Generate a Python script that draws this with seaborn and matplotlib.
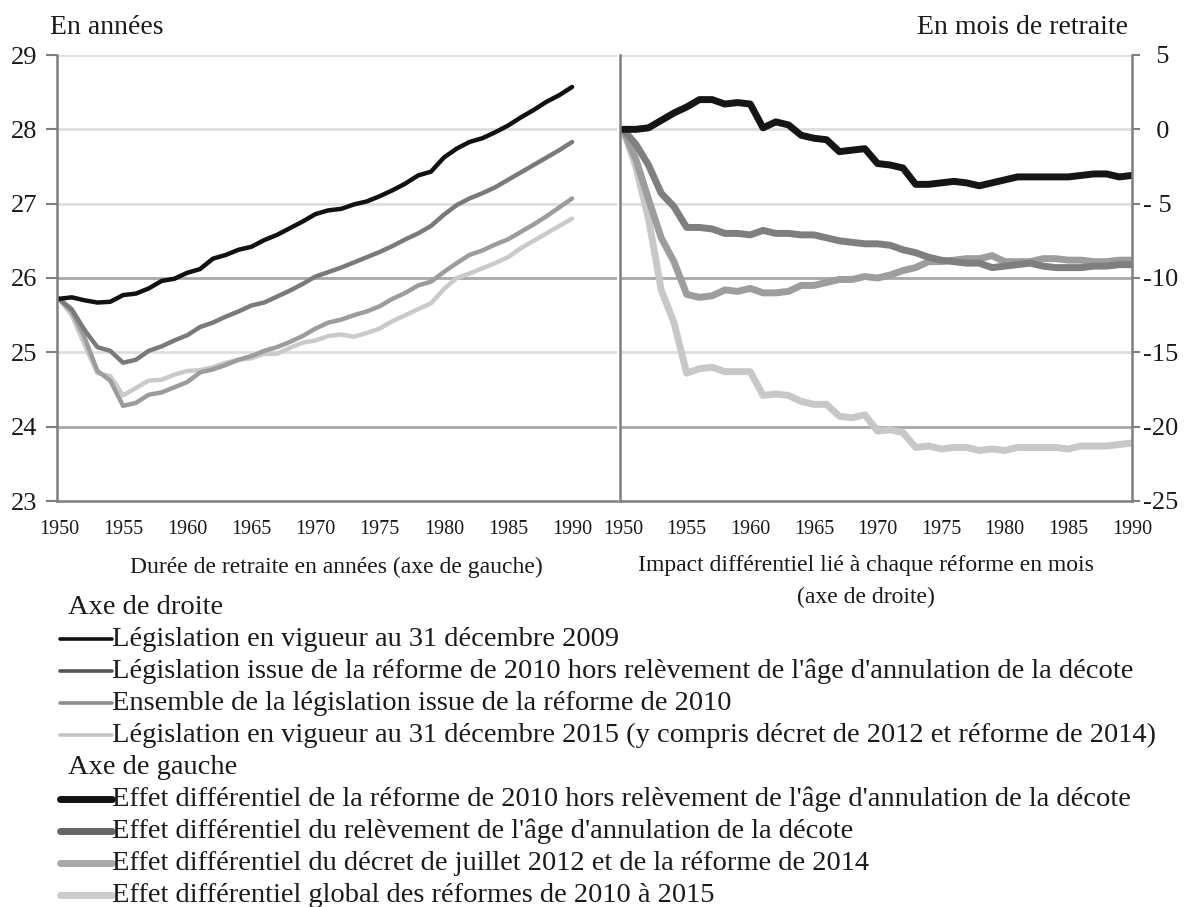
import matplotlib
matplotlib.use("Agg")
import matplotlib.pyplot as plt
from matplotlib.lines import Line2D
import numpy as np
import pandas as pd
import seaborn as sns

#------Data------

YEARS = list(range(1950, 1991))

# left axis: durée de retraite en années
LEG_2009 = [25.72, 25.74, 25.70, 25.67, 25.68, 25.77, 25.79, 25.86, 25.96, 25.99,
            26.07, 26.12, 26.26, 26.31, 26.38, 26.42, 26.51, 26.58, 26.67, 26.76,
            26.86, 26.91, 26.93, 26.99, 27.03, 27.10, 27.18, 27.27, 27.38, 27.43,
            27.62, 27.74, 27.83, 27.88, 27.96, 28.05, 28.16, 28.26, 28.37, 28.46, 28.57]
LEG_2010_HORS = [25.72, 25.58, 25.30, 25.07, 25.02, 24.86, 24.90, 25.02, 25.08, 25.16,
                 25.23, 25.34, 25.40, 25.48, 25.55, 25.63, 25.67, 25.75, 25.83, 25.92,
                 26.02, 26.08, 26.14, 26.21, 26.28, 26.35, 26.43, 26.52, 26.60, 26.70,
                 26.85, 26.98, 27.07, 27.14, 27.22, 27.32, 27.42, 27.52, 27.62, 27.72, 27.83]
LEG_2010_ENS = [25.72, 25.55, 25.20, 24.75, 24.62, 24.28, 24.32, 24.43, 24.46, 24.53,
                24.60, 24.73, 24.77, 24.83, 24.90, 24.95, 25.02, 25.07, 25.14, 25.22,
                25.32, 25.40, 25.44, 25.50, 25.55, 25.62, 25.72, 25.80, 25.90, 25.95,
                26.08, 26.20, 26.31, 26.37, 26.45, 26.52, 26.62, 26.72, 26.83, 26.95, 27.07]
LEG_2015 = [25.72, 25.50, 25.10, 24.72, 24.68, 24.42, 24.52, 24.62, 24.63, 24.70,
            24.75, 24.76, 24.80, 24.86, 24.90, 24.92, 24.98, 24.98, 25.06, 25.13,
            25.16, 25.22, 25.24, 25.21, 25.26, 25.32, 25.42, 25.50, 25.58, 25.66,
            25.85, 26.00, 26.06, 26.13, 26.20, 26.28, 26.40, 26.50, 26.60, 26.70, 26.80]

# right axis: impact en mois
EFF_HORS = [0.0, 0.0, 0.1, 0.6, 1.1, 1.5, 2.0, 2.0, 1.7, 1.8,
            1.7, 0.1, 0.5, 0.3, -0.4, -0.6, -0.7, -1.5, -1.4, -1.3,
            -2.3, -2.4, -2.6, -3.7, -3.7, -3.6, -3.5, -3.6, -3.8, -3.6,
            -3.4, -3.2, -3.2, -3.2, -3.2, -3.2, -3.1, -3.0, -3.0, -3.2, -3.1]
EFF_RELEV = [0.0, -1.0, -2.4, -4.3, -5.2, -6.6, -6.6, -6.7, -7.0, -7.0,
             -7.1, -6.8, -7.0, -7.0, -7.1, -7.1, -7.3, -7.5, -7.6, -7.7,
             -7.7, -7.8, -8.1, -8.3, -8.6, -8.8, -8.9, -9.0, -9.0, -9.3,
             -9.2, -9.1, -9.0, -9.2, -9.3, -9.3, -9.3, -9.2, -9.2, -9.1, -9.1]
EFF_2012 = [0.0, -2.0, -4.7, -7.3, -8.9, -11.1, -11.3, -11.2, -10.8, -10.9,
            -10.7, -11.0, -11.0, -10.9, -10.5, -10.5, -10.3, -10.1, -10.1, -9.9,
            -10.0, -9.8, -9.5, -9.3, -8.9, -8.9, -8.8, -8.7, -8.7, -8.5,
            -8.9, -8.9, -8.9, -8.7, -8.7, -8.8, -8.8, -8.9, -8.9, -8.8, -8.8]
EFF_GLOBAL = [0.0, -2.5, -6.0, -10.8, -13.0, -16.4, -16.1, -16.0, -16.3, -16.3,
              -16.3, -17.9, -17.8, -17.9, -18.3, -18.5, -18.5, -19.3, -19.4, -19.2,
              -20.3, -20.2, -20.4, -21.4, -21.3, -21.5, -21.4, -21.4, -21.6, -21.5,
              -21.6, -21.4, -21.4, -21.4, -21.4, -21.5, -21.3, -21.3, -21.3, -21.2, -21.1]

LEFT_LABELS = [
    "Législation en vigueur au 31 décembre 2009",
    "Législation issue de la réforme de 2010 hors relèvement de l'âge d'annulation de la décote",
    "Ensemble de la législation issue de la réforme de 2010",
    "Législation en vigueur au 31 décembre 2015 (y compris décret de 2012 et réforme de 2014)",
]
RIGHT_LABELS = [
    "Effet différentiel de la réforme de 2010 hors relèvement de l'âge d'annulation de la décote",
    "Effet différentiel du relèvement de l'âge d'annulation de la décote",
    "Effet différentiel du décret de juillet 2012 et de la réforme de 2014",
    "Effet différentiel global des réformes de 2010 à 2015",
]

LEFT_TICKS = [23, 24, 25, 26, 27, 28, 29]
RIGHT_TICKS = [-25, -20, -15, -10, -5, 0, 5]
X_TICKS = list(range(1950, 1991, 5))

#------Style------

LEFT_COLORS = ["#111111", "#7a7a7a", "#9c9c9c", "#cacaca"]
RIGHT_COLORS = ["#151515", "#7f7f7f", "#9d9d9d", "#c8c8c8"]
LEG1_COLORS = ["#111111", "#555555", "#8c8c8c", "#c4c4c4"]
LEG2_COLORS = ["#111111", "#666666", "#a8a8a8", "#cccccc"]
AXIS_GREY = "#7f7f7f"

sns.set_theme(style="white")
plt.rcParams["font.family"] = ["Liberation Serif", "DejaVu Serif"]
plt.rcParams["text.color"] = "#1a1a1a"

W, H = 1186, 907
fig = plt.figure(figsize=(W / 100, H / 100), dpi=100)


def px_box(x0, y0, x1, y1):
    return [x0 / W, 1 - y1 / H, (x1 - x0) / W, (y1 - y0) / H]


def right_label(t):
    # fixed-width labels like the original: digits kept in the same column
    if t >= 0:
        return "\u2007" + str(t)
    if t > -10:
        return "- " + str(abs(t))
    return "-" + str(abs(t))


axL = fig.add_axes(px_box(57, 55, 617, 501))
axR = fig.add_axes(px_box(620, 55, 1132, 501))

df_left = pd.DataFrame({
    "annee": YEARS * 4,
    "valeur": LEG_2009 + LEG_2010_HORS + LEG_2010_ENS + LEG_2015,
    "serie": np.repeat(LEFT_LABELS, len(YEARS)),
})
df_right = pd.DataFrame({
    "annee": YEARS * 4,
    "valeur": EFF_HORS + EFF_RELEV + EFF_2012 + EFF_GLOBAL,
    "serie": np.repeat(RIGHT_LABELS, len(YEARS)),
})

# draw light lines first so the dark ones sit on top
sns.lineplot(data=df_left, x="annee", y="valeur", hue="serie",
             hue_order=LEFT_LABELS[::-1], palette=LEFT_COLORS[::-1],
             linewidth=3.2, legend=False, ax=axL)
sns.lineplot(data=df_right, x="annee", y="valeur", hue="serie",
             hue_order=RIGHT_LABELS[::-1], palette=RIGHT_COLORS[::-1],
             linewidth=5, legend=False, ax=axR)

#------Axes------

for ax, ticks in [(axL, LEFT_TICKS), (axR, RIGHT_TICKS)]:
    ax.set_ylim(ticks[0], ticks[-1])
    ax.set_yticks(ticks)
    ax.set_xticks(X_TICKS)
    ax.set_xlabel("")
    ax.set_ylabel("")
    for t in ticks[1:]:
        dark = t in (24, 26, -10, -20)
        ax.axhline(t, color="#a8a8a8" if dark else "#dedede", lw=2, zorder=0)
    ax.spines["top"].set_visible(False)
    for s in ["left", "bottom", "right"]:
        ax.spines[s].set_color(AXIS_GREY)
        ax.spines[s].set_linewidth(1.8)
    ax.tick_params(axis="x", direction="out", length=9, width=1.5, color="#555555",
                   labelsize=14.5, pad=5, labelcolor="#1a1a1a")

axL.set_xlim(1949.85, 1993.5)
axR.set_xlim(1949.76, 1990.0)

axL.spines["right"].set_visible(False)
axL.tick_params(axis="y", direction="out", length=8, width=1.5, color=AXIS_GREY,
                labelsize=19, pad=6, left=True, labelcolor="#1a1a1a")

axR.yaxis.tick_right()
axR.set_yticklabels([right_label(t) for t in RIGHT_TICKS])
axR.tick_params(axis="y", direction="out", length=6, width=1.5, color=AXIS_GREY,
                labelsize=19, pad=2, right=True, labelcolor="#1a1a1a")

#------Texts------

fig.text(50 / W, 1 - 28 / H, "En années", fontsize=20, va="center", ha="left")
fig.text(1128 / W, 1 - 28 / H, "En mois de retraite", fontsize=20, va="center", ha="right")
fig.text(336 / W, 1 - 567 / H, "Durée de retraite en années (axe de gauche)",
         fontsize=17, va="center", ha="center")
fig.text(866 / W, 1 - 566 / H, "Impact différentiel lié à chaque réforme en mois",
         fontsize=17, va="center", ha="center")
fig.text(866 / W, 1 - 597 / H, "(axe de droite)", fontsize=17, va="center", ha="center")

#------Legend (manual, two groups)------

rows = [("Axe de droite", None, None)]
rows += [(lab, c, 2.6) for lab, c in zip(LEFT_LABELS, LEG1_COLORS)]
rows += [("Axe de gauche", None, None)]
rows += [(lab, c, 5.0) for lab, c in zip(RIGHT_LABELS, LEG2_COLORS)]

y0, step = 607, 32
for i, (lab, color, lw) in enumerate(rows):
    y = 1 - (y0 + step * i) / H
    if color is None:
        fig.text(68 / W, y, lab, fontsize=20.5, va="center", ha="left")
    else:
        fig.add_artist(Line2D([60 / W, 112 / W], [y, y], color=color, lw=lw,
                              transform=fig.transFigure))
        fig.text(112 / W, y, lab, fontsize=20.5, va="center", ha="left")

fig.savefig("out.png", dpi=100)
